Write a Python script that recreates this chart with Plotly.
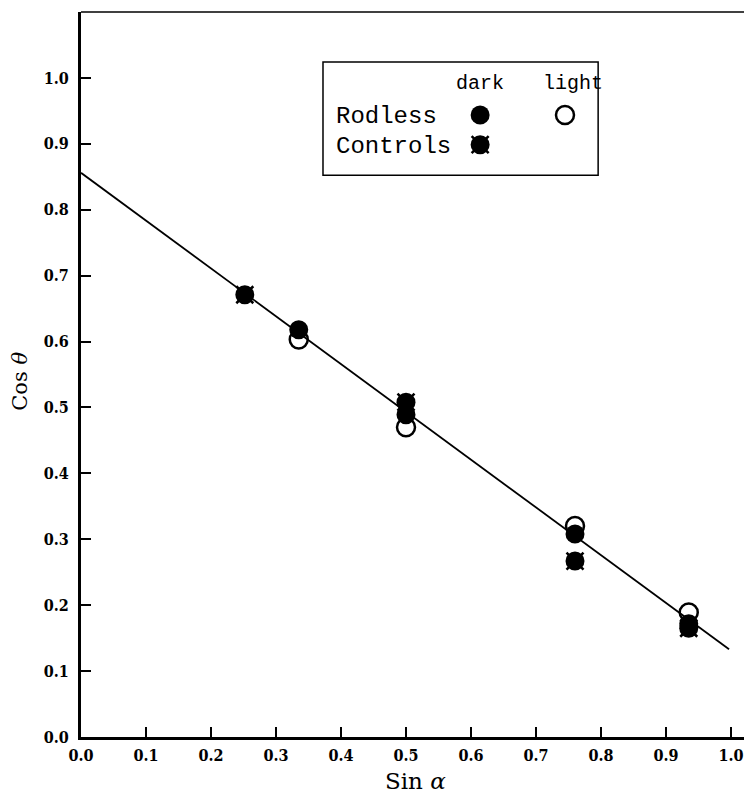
import plotly.graph_objects as go

# ---- data ----
sin_alpha_rodless = [0.335, 0.50, 0.76, 0.935]
cos_theta_rodless_dark = [0.618, 0.489, 0.308, 0.172]
cos_theta_rodless_light = [0.603, 0.470, 0.320, 0.189]
sin_alpha_controls = [0.252, 0.50, 0.76, 0.935]
cos_theta_controls_dark = [0.671, 0.508, 0.267, 0.165]
fit_x = [0.0, 0.997]
fit_y = [0.856, 0.133]
tick_vals = [0.0, 0.1, 0.2, 0.3, 0.4, 0.5, 0.6, 0.7, 0.8, 0.9, 1.0]
tick_text = ["0.0", "0.1", "0.2", "0.3", "0.4", "0.5", "0.6", "0.7", "0.8", "0.9", "1.0"]

FONT = "DejaVu Serif Condensed, DejaVu Serif"
SERIF = "DejaVu Serif"
MONO = "Liberation Mono"
BLACK = "#000000"

fig = go.Figure()

# fitted line
fig.add_trace(go.Scatter(x=fit_x, y=fit_y, mode="lines",
                         line=dict(color=BLACK, width=1.8), showlegend=False))

# controls: filled circle with short diagonal spikes
fig.add_trace(go.Scatter(x=sin_alpha_controls, y=cos_theta_controls_dark, mode="markers",
                         marker=dict(symbol="x-thin", size=17, line=dict(color=BLACK, width=2.5)),
                         showlegend=False))
fig.add_trace(go.Scatter(x=sin_alpha_controls, y=cos_theta_controls_dark, mode="markers",
                         marker=dict(symbol="circle", size=19, color=BLACK, line=dict(width=0)),
                         showlegend=False))
# rodless light (open circles)
fig.add_trace(go.Scatter(x=sin_alpha_rodless, y=cos_theta_rodless_light, mode="markers",
                         marker=dict(symbol="circle-open", size=18, color=BLACK, line=dict(color=BLACK, width=2.5)),
                         showlegend=False))
# rodless dark (filled circles)
fig.add_trace(go.Scatter(x=sin_alpha_rodless, y=cos_theta_rodless_dark, mode="markers",
                         marker=dict(symbol="circle", size=19, color=BLACK, line=dict(width=0)),
                         showlegend=False))

# ---- legend glyphs on an overlay axis spanning the plot area (0..1) ----
leg_x = {"dark": 0.602, "light": 0.730}
leg_y = {"Rodless": 0.858, "Controls": 0.817}
fig.add_trace(go.Scatter(x=[leg_x["dark"]], y=[leg_y["Controls"]], xaxis="x2", yaxis="y2",
                         mode="markers", showlegend=False, hoverinfo="skip",
                         marker=dict(symbol="x-thin", size=17, line=dict(color=BLACK, width=2.5))))
fig.add_trace(go.Scatter(x=[leg_x["dark"], leg_x["dark"]], y=[leg_y["Rodless"], leg_y["Controls"]],
                         xaxis="x2", yaxis="y2", mode="markers", showlegend=False, hoverinfo="skip",
                         marker=dict(symbol="circle", size=19, color=BLACK, line=dict(width=0))))
fig.add_trace(go.Scatter(x=[leg_x["light"]], y=[leg_y["Rodless"]], xaxis="x2", yaxis="y2",
                         mode="markers", showlegend=False, hoverinfo="skip",
                         marker=dict(symbol="circle-open", size=18, color=BLACK, line=dict(color=BLACK, width=2.5))))

annotations = [
    dict(text="dark", x=0.602, y=0.902, xref="paper", yref="paper", showarrow=False,
         font=dict(family=MONO, size=20, color=BLACK), xanchor="center", yanchor="middle"),
    dict(text="light", x=0.742, y=0.902, xref="paper", yref="paper", showarrow=False,
         font=dict(family=MONO, size=20, color=BLACK), xanchor="center", yanchor="middle"),
    dict(text="Rodless", x=0.381, y=0.856, xref="paper", yref="paper", showarrow=False,
         font=dict(family=MONO, size=24, color=BLACK), xanchor="left", yanchor="middle"),
    dict(text="Controls", x=0.381, y=0.815, xref="paper", yref="paper", showarrow=False,
         font=dict(family=MONO, size=24, color=BLACK), xanchor="left", yanchor="middle"),
    dict(text="Sin <i>α</i>", x=0.505, y=-0.060, xref="paper", yref="paper", showarrow=False,
         font=dict(family=SERIF, size=23, color=BLACK), xanchor="center", yanchor="middle"),
    dict(text="Cos <i>θ</i>", x=-0.092, y=0.49, xref="paper", yref="paper", showarrow=False,
         textangle=-90, font=dict(family=SERIF, size=21, color=BLACK), xanchor="center", yanchor="middle"),
]

shapes = [
    # legend box
    dict(type="rect", xref="paper", yref="paper", x0=0.365, x1=0.780, y0=0.775, y1=0.931,
         line=dict(color=BLACK, width=1.5), fillcolor="rgba(0,0,0,0)"),
    # top frame line
    dict(type="line", xref="paper", yref="paper", x0=0, x1=1, y0=1, y1=1,
         line=dict(color=BLACK, width=1.5)),
]

axis_common = dict(
    showgrid=False, zeroline=False, showline=True, linecolor=BLACK, linewidth=3,
    ticks="inside", ticklen=10, tickwidth=1.5, tickcolor=BLACK,
    tickvals=tick_vals, ticktext=tick_text,
    tickfont=dict(family=FONT, size=16, color=BLACK, weight="bold"),
)

fig.update_layout(
    width=744, height=793,
    margin=dict(l=81, r=0, t=12, b=56),
    paper_bgcolor="white", plot_bgcolor="white",
    xaxis=dict(range=[0, 1.02], ticklabelstandoff=2, **axis_common),
    yaxis=dict(range=[0, 1.1], ticklabelstandoff=6, **axis_common),
    xaxis2=dict(range=[0, 1], overlaying="x", visible=False, anchor="y2"),
    yaxis2=dict(range=[0, 1], overlaying="y", visible=False, anchor="x2"),
    annotations=annotations,
    shapes=shapes,
    showlegend=False,
)

fig.write_html("out.html",
               config={"displayModeBar": False},
               post_script="document.body.style.margin='0px';document.body.style.overflow='hidden';")
